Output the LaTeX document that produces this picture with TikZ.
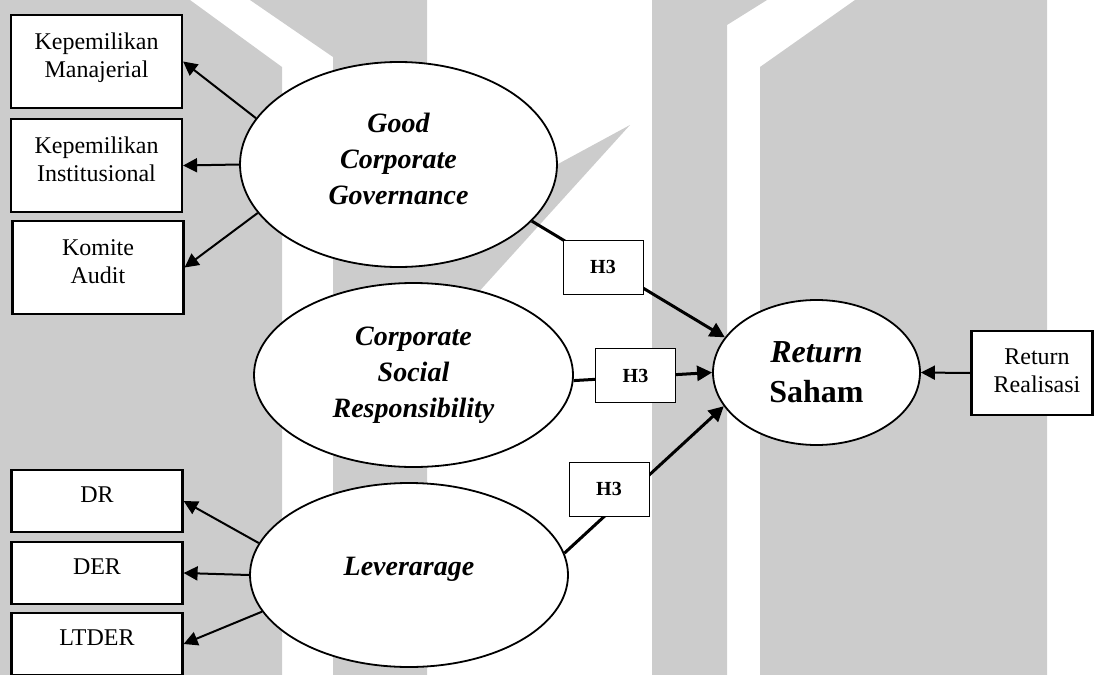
\documentclass[tikz,border=0pt]{standalone}
\usepackage{fontspec}
\setmainfont{Liberation Serif}
\usetikzlibrary{arrows.meta}
\usetikzlibrary{shapes.geometric}

\begin{document}
\begin{tikzpicture}[x=0.5pt,y=-0.5pt,
 box/.style={draw,fill=white,line width=1.1pt,inner sep=0pt,minimum width=85.5pt,align=center,text depth=6pt,font=\fontsize{12}{14}\selectfont},
 lat/.style={ellipse,draw,fill=white,line width=0.9pt,inner sep=0pt,align=center,font=\fontsize{14}{18}\selectfont\bfseries\itshape},
 hyp/.style={draw,fill=white,line width=0.5pt,inner sep=0pt,minimum width=40pt,minimum height=27pt,font=\fontsize{10}{12}\selectfont\bfseries},
 ind/.style={-{Triangle[length=7pt,width=7pt]},line width=1pt},
 eff/.style={-{Triangle[length=7.5pt,width=7.5pt]},line width=1.5pt}]
\useasboundingbox (0,0) rectangle (1094,675);
\clip (0,0) rectangle (1094,675);
\fill[gray!40] (0,0)--(190,0)--(282,67)--(282,675)--(0,675)--cycle;
\fill[gray!40] (250,0)--(427,0)--(427,675)--(333,675)--(333,57)--cycle;
\fill[gray!40] (630,125)--(427,235)--(427,349)--cycle;
\fill[gray!40] (652,0)--(767,0)--(727,25)--(727,675)--(652,675)--cycle;
\fill[gray!40] (855,0)--(1047,0)--(1047,675)--(760,675)--(760,67)--cycle;

\node[lat,minimum width=158.5pt,minimum height=102.5pt,text depth=6pt] (gcg) at (398.5,164.5) {Good\\Corporate\\Governance};
\node[lat,minimum width=159.5pt,minimum height=92pt] (csr) at (413.5,375) {Corporate\\Social\\Responsibility};
\node[lat,minimum width=159pt,minimum height=92pt,text depth=9pt] (lev) at (409,575) {Leverarage};
\node[lat,minimum width=103.5pt,minimum height=72.5pt,font=\fontsize{16}{20}\selectfont\bfseries] (rs) at (816.5,372.5) {\textit{Return}\\Saham};

\node[box,minimum height=46.5pt] (km) at (96.5,61.5) {Kepemilikan\\Manajerial};
\node[box,minimum height=46.5pt] (ki) at (96.5,165.5) {Kepemilikan\\Institusional};
\node[box,minimum height=46.5pt] (ka) at (98,267.5) {Komite\\Audit};
\node[box,minimum height=31pt] (dr) at (97,501) {DR};
\node[box,minimum height=31pt] (der) at (97,573) {DER};
\node[box,minimum height=31pt] (ltder) at (97,644) {LTDER};
\node[box,minimum width=60.5pt,minimum height=42pt,text depth=2pt] (rr) at (1032,373) {\hspace*{5pt}Return\\\hspace*{5pt}Realisasi};

\draw[ind] (gcg.162)--(km.east);
\draw[ind] (gcg.west)--(ki.east);
\draw[ind] (gcg.199)--(ka.east);
\draw[ind] (lev.168)--(dr.east);
\draw[ind] (lev.west)--(der.east);
\draw[ind] (lev.194)--(ltder.east);
\draw[ind] (rr.west)--(rs.east);
\draw[eff] (gcg.-23)--(rs.159);
\draw[eff] (csr.-2)--(rs.west);
\draw[eff] (lev.8)--(rs.200);
\node[hyp] (h3a) at (603,267) {H3};
\node[hyp] (h3b) at (635.5,375.5) {H3};
\node[hyp] (h3c) at (609,489) {H3};
\end{tikzpicture}
\end{document}
